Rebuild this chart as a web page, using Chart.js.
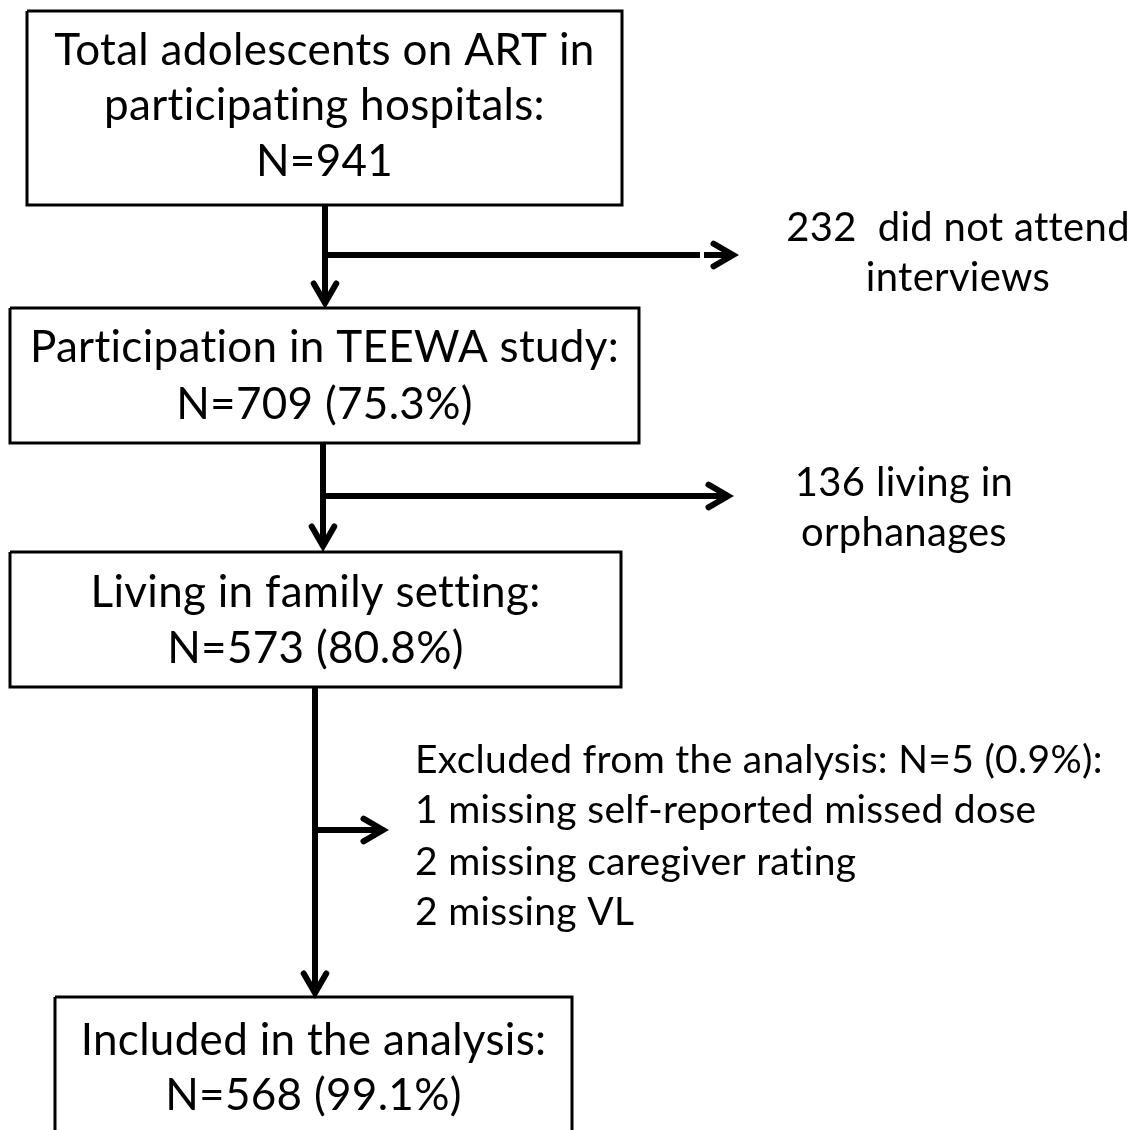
<!DOCTYPE html>
<html>
<head>
<meta charset="utf-8">
<script src="https://cdn.jsdelivr.net/npm/chart.js@4/dist/chart.umd.min.js"></script>
<style>
  html, body { margin: 0; padding: 0; background: #fff; }
  #wrap { width: 1141px; height: 1130px; }
</style>
</head>
<body>
<div id="wrap"><canvas id="flow" width="1141" height="1130"></canvas></div>
<script>
// ─── DATA ─────────────────────────────────────────────────────────────────────
const BOX_TEXT = [
  ['Total adolescents on ART in', 'participating hospitals:', 'N=941'],
  ['Participation in TEEWA study:', 'N=709 (75.3%)'],
  ['Living in family setting:', 'N=573 (80.8%)'],
  ['Included in the analysis:', 'N=568 (99.1%)']
];
const SIDE_TEXT = [
  ['232  did not attend', 'interviews'],
  ['136 living in', 'orphanages'],
  ['Excluded from the analysis: N=5 (0.9%):', '1 missing self-reported missed dose', '2 missing caregiver rating', '2 missing VL']
];

// ─── LAYOUT (chart units, x 0..1141, y 0..1130 top-down) ──────────────────────
const BOX_RECTS = [[27, 11, 622, 205], [10, 308, 639, 443], [10, 552, 621, 687], [55, 997, 572, 1140]];
const BOX_LINE_Y = [[51, 106, 162], [348, 405], [593, 649], [1041, 1096]];
const SIDE_POS = [
  { x: 958, ys: [228, 278], align: 'center', size: 40 },
  { x: 904, ys: [483, 533], align: 'center', size: 40 },
  { x: 415, ys: [760, 810, 862, 912], align: 'left', size: 39 }
];
// connectors: [x1,y1,x2,y2,arrow?]
const LINKS = [
  [325, 205, 325, 300, true],
  [325, 255, 700, 255, false],
  [704, 255, 730, 255, true],
  [323, 443, 323, 543, true],
  [323, 496, 725, 496, true],
  [315, 687, 315, 990, true],
  [315, 830, 380, 830, true]
];
const FONT = 'Lato, "Open Sans", sans-serif';
const BOX_FONT_SIZE = 44;

// ─── DATASETS ─────────────────────────────────────────────────────────────────
const datasets = [];
BOX_RECTS.forEach(r => {
  datasets.push({
    data: [{ x: r[0], y: r[1] }, { x: r[2], y: r[1] }, { x: r[2], y: r[3] }, { x: r[0], y: r[3] }, { x: r[0], y: r[1] }],
    borderColor: '#000', borderWidth: 3, pointRadius: 0, showLine: true, fill: false, tension: 0,
    borderJoinStyle: 'miter'
  });
});
LINKS.forEach(l => {
  datasets.push({
    data: [{ x: l[0], y: l[1] }, { x: l[2], y: l[3] }],
    borderColor: '#000', borderWidth: 6, pointRadius: 0, showLine: true, fill: false, tension: 0
  });
});

// ─── PLUGIN: arrowheads + text ────────────────────────────────────────────────
const flowDeco = {
  id: 'flowDeco',
  afterDatasetsDraw(chart) {
    const { ctx, scales: { x, y } } = chart;
    ctx.save();
    // arrowheads
    ctx.strokeStyle = '#000';
    ctx.lineWidth = 6;
    ctx.lineCap = 'round';
    ctx.lineJoin = 'miter';
    LINKS.forEach(l => {
      if (!l[4]) return;
      const x1 = x.getPixelForValue(l[0]), y1 = y.getPixelForValue(l[1]);
      const x2 = x.getPixelForValue(l[2]), y2 = y.getPixelForValue(l[3]);
      const a = Math.atan2(y2 - y1, x2 - x1);
      const len = 20, spread = 0.6;
      ctx.beginPath();
      ctx.moveTo(x2 - len * Math.cos(a - spread), y2 - len * Math.sin(a - spread));
      ctx.lineTo(x2 + 3 * Math.cos(a), y2 + 3 * Math.sin(a));
      ctx.lineTo(x2 - len * Math.cos(a + spread), y2 - len * Math.sin(a + spread));
      ctx.stroke();
    });
    // text (tiny letter spacing keeps Lato from forming "ti"/"tt" ligatures)
    ctx.fillStyle = '#000';
    ctx.letterSpacing = '0.3px';
    ctx.textBaseline = 'middle';
    ctx.textAlign = 'center';
    ctx.font = BOX_FONT_SIZE + 'px ' + FONT;
    BOX_TEXT.forEach((lines, i) => {
      const r = BOX_RECTS[i];
      const cx = x.getPixelForValue((r[0] + r[2]) / 2);
      lines.forEach((t, j) => ctx.fillText(t, cx, y.getPixelForValue(BOX_LINE_Y[i][j])));
    });
    SIDE_TEXT.forEach((lines, i) => {
      const p = SIDE_POS[i];
      ctx.textAlign = p.align;
      ctx.font = p.size + 'px ' + FONT;
      lines.forEach((t, j) => ctx.fillText(t, x.getPixelForValue(p.x), y.getPixelForValue(p.ys[j])));
    });
    ctx.restore();
  }
};

new Chart(document.getElementById('flow'), {
  type: 'scatter',
  data: { datasets },
  options: {
    responsive: false,
    animation: false,
    layout: { padding: 0 },
    plugins: { legend: { display: false }, tooltip: { enabled: false } },
    scales: {
      x: { type: 'linear', min: 0, max: 1141, display: false },
      y: { type: 'linear', min: 0, max: 1130, reverse: true, display: false }
    },
    elements: { line: { clip: false } }
  },
  plugins: [flowDeco]
});
</script>
</body>
</html>
